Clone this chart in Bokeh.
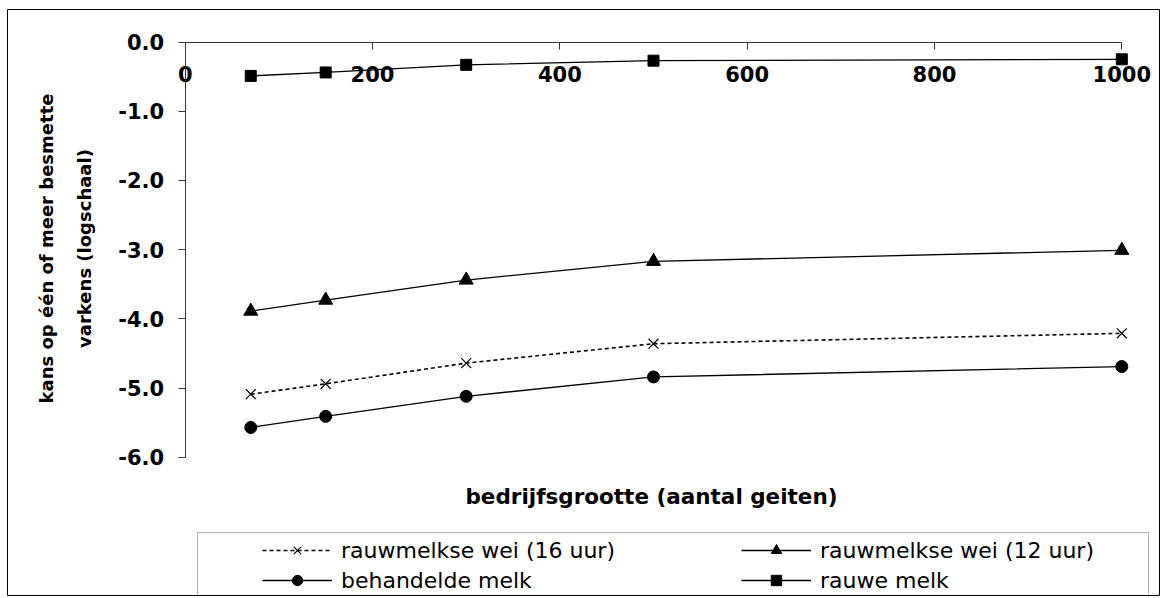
import math
from bokeh.plotting import figure
from bokeh.models import (Range1d, LinearAxis, FixedTicker, NumeralTickFormatter,
                          Legend, LegendItem, Label, BoxAnnotation, ColumnDataSource)
from bokeh.embed import file_html
from bokeh.resources import INLINE

# ---- data ----
sizes = [70, 150, 300, 500, 1000]                    # bedrijfsgrootte (aantal geiten)
wei_16 = [-5.09, -4.94, -4.64, -4.36, -4.21]         # rauwmelkse wei (16 uur)
wei_12 = [-3.89, -3.73, -3.44, -3.17, -3.01]         # rauwmelkse wei (12 uur)
behandeld = [-5.57, -5.41, -5.12, -4.84, -4.69]      # behandelde melk
rauw = [-0.49, -0.44, -0.33, -0.27, -0.25]           # rauwe melk

x_ticks = [0, 200, 400, 600, 800, 1000]
y_ticks = [-6, -5, -4, -3, -2, -1, 0]

series_labels = ["rauwmelkse wei (16 uur)", "rauwmelkse wei (12 uur)",
                 "behandelde melk", "rauwe melk"]
x_title = "bedrijfsgrootte (aantal geiten)"
y_title = ["kans op één of meer besmette", "varkens (logschaal)"]

FONT = "DejaVu Sans"

p = figure(width=1160, height=596, output_backend="svg", toolbar_location=None,
           x_range=Range1d(-189.73, 1041.32), y_range=Range1d(-8.013, 0.4697),
           x_axis_type=None, y_axis_type=None,
           min_border_left=7, min_border_right=0, min_border_top=9, min_border_bottom=0)
p.outline_line_color = "black"
p.outline_line_width = 1
p.background_fill_color = "white"
p.border_fill_color = "white"

def style_axis(ax, standoff):
    ax.axis_line_color = "#333333"
    ax.axis_line_width = 1
    ax.major_tick_line_color = "#333333"
    ax.major_tick_out = 7
    ax.major_tick_in = 0
    ax.minor_tick_out = 0
    ax.minor_tick_in = 0
    ax.major_label_text_font = FONT
    ax.major_label_text_font_size = "21px"
    ax.major_label_text_font_style = "bold"
    ax.major_label_text_color = "black"
    ax.major_label_standoff = standoff

yaxis = LinearAxis(fixed_location=0, bounds=(-6, 0),
                   ticker=FixedTicker(ticks=y_ticks, minor_ticks=[]),
                   formatter=NumeralTickFormatter(format="0.0"))
style_axis(yaxis, 14)
p.add_layout(yaxis, "left")

xaxis = LinearAxis(fixed_location=0, bounds=(0, 1000),
                   ticker=FixedTicker(ticks=x_ticks, minor_ticks=[]))
style_axis(xaxis, 17)
p.add_layout(xaxis, "below")

src = ColumnDataSource(dict(x=sizes, w16=wei_16, w12=wei_12, beh=behandeld, rauw=rauw))

l1 = p.line("x", "w16", source=src, line_color="black", line_width=1.6, line_dash="4 3")
m1 = p.scatter("x", "w16", source=src, marker="x", size=14, line_color="black", line_width=1.2)
l2 = p.line("x", "w12", source=src, line_color="black", line_width=1.3)
m2 = p.scatter("x", "w12", source=src, marker="triangle", size=14, fill_color="black", line_color="black")
l3 = p.line("x", "beh", source=src, line_color="black", line_width=1.3)
m3 = p.scatter("x", "beh", source=src, marker="circle", size=12, fill_color="black", line_color="black")
l4 = p.line("x", "rauw", source=src, line_color="black", line_width=1.3)
m4 = p.scatter("x", "rauw", source=src, marker="square", size=11, fill_color="black", line_color="black")

# legend frame
p.add_layout(BoxAnnotation(left=190, right=1141, top=64, bottom=1,
                           left_units="screen", right_units="screen",
                           top_units="screen", bottom_units="screen",
                           fill_alpha=0, line_color="black", line_width=1))

def make_legend(items, x):
    leg = Legend(items=items, location=(x, 3), orientation="vertical",
                 padding=0, margin=0, spacing=4,
                 glyph_width=70, glyph_height=26, label_height=26, label_standoff=9,
                 label_text_font=FONT, label_text_font_size="22px", label_text_color="black",
                 border_line_alpha=0, background_fill_alpha=0)
    p.add_layout(leg)

make_legend([LegendItem(label=series_labels[0], renderers=[l1, m1]),
             LegendItem(label=series_labels[2], renderers=[l3, m3])], 255)
make_legend([LegendItem(label=series_labels[1], renderers=[l2, m2]),
             LegendItem(label=series_labels[3], renderers=[l4, m4])], 734)

# axis titles
p.add_layout(Label(x=644, y=100, x_units="screen", y_units="screen", text=x_title,
                   text_align="center", text_baseline="middle", text_font=FONT,
                   text_font_size="21.5px", text_font_style="bold", text_color="black"))
p.add_layout(Label(x=39, y=348, x_units="screen", y_units="screen", text=y_title[0],
                   angle=math.pi / 2, text_align="center", text_baseline="middle",
                   text_font=FONT, text_font_size="18px", text_font_style="bold",
                   text_color="black"))
p.add_layout(Label(x=77, y=348, x_units="screen", y_units="screen", text=y_title[1],
                   angle=math.pi / 2, text_align="center", text_baseline="middle",
                   text_font=FONT, text_font_size="18px", text_font_style="bold",
                   text_color="black"))

open("out.html", "w").write(file_html(p, INLINE))
